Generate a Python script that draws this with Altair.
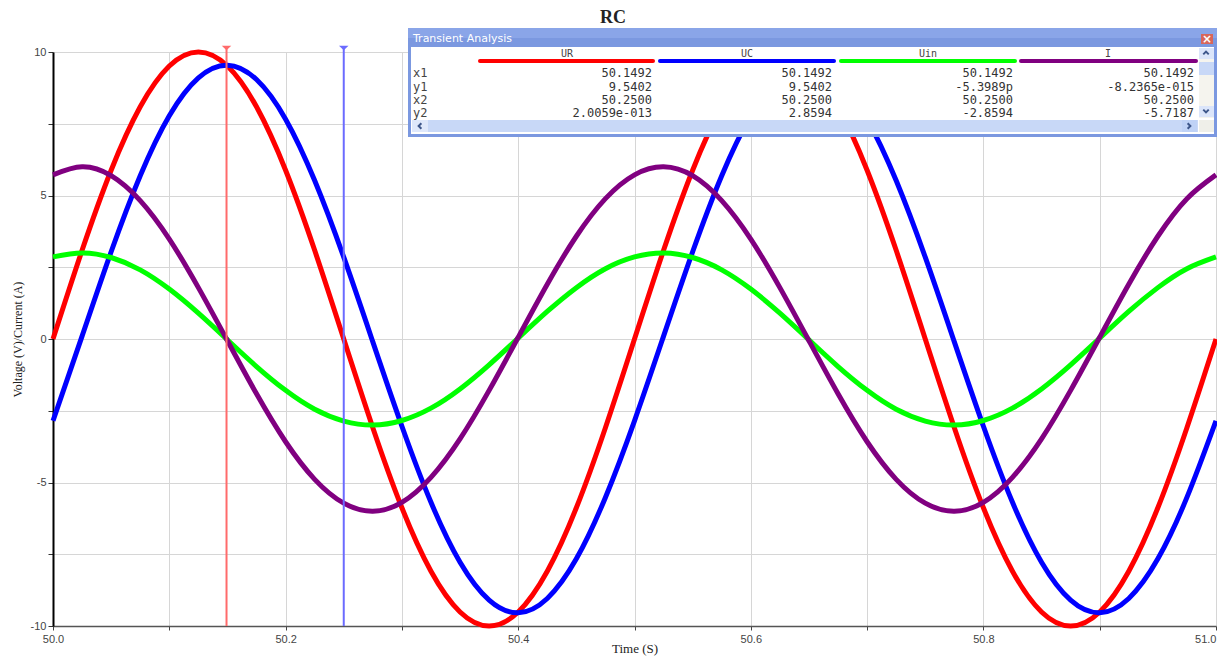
import altair as alt
import pandas as pd

# ---------------- data ----------------
t = [50.000, 50.025, 50.050, 50.075, 50.100, 50.125, 50.150, 50.175, 50.200, 50.225,
     50.250, 50.275, 50.300, 50.325, 50.350, 50.375, 50.400, 50.425, 50.450, 50.475,
     50.500, 50.525, 50.550, 50.575, 50.600, 50.625, 50.650, 50.675, 50.700, 50.725,
     50.750, 50.775, 50.800, 50.825, 50.850, 50.875, 50.900, 50.925, 50.950, 50.975,
     51.000]
UR = [0.00, 3.09, 5.88, 8.09, 9.51, 10.00, 9.51, 8.09, 5.88, 3.09,
      0.00, -3.09, -5.88, -8.09, -9.51, -10.00, -9.51, -8.09, -5.88, -3.09,
      0.00, 3.09, 5.88, 8.09, 9.51, 10.00, 9.51, 8.09, 5.88, 3.09,
      0.00, -3.09, -5.88, -8.09, -9.51, -10.00, -9.51, -8.09, -5.88, -3.09,
      0.00]
UC = [-2.85, 0.10, 3.04, 5.69, 7.78, 9.10, 9.54, 9.04, 7.66, 5.52,
      2.85, -0.10, -3.04, -5.69, -7.78, -9.10, -9.54, -9.04, -7.66, -5.52,
      -2.85, 0.10, 3.04, 5.69, 7.78, 9.10, 9.54, 9.04, 7.66, 5.52,
      2.85, -0.10, -3.04, -5.69, -7.78, -9.10, -9.54, -9.04, -7.66, -5.52,
      -2.85]
Uin = [2.86, 3.00, 2.84, 2.41, 1.74, 0.90, -0.03, -0.96, -1.79, -2.45,
       -2.86, -3.00, -2.84, -2.41, -1.74, -0.90, 0.03, 0.96, 1.79, 2.45,
       2.86, 3.00, 2.84, 2.41, 1.74, 0.90, -0.03, -0.96, -1.79, -2.45,
       -2.86, -3.00, -2.84, -2.41, -1.74, -0.90, 0.03, 0.96, 1.79, 2.45,
       2.86]
I = [5.72, 6.00, 5.69, 4.82, 3.48, 1.79, -0.06, -1.91, -3.58, -4.89,
     -5.72, -6.00, -5.69, -4.82, -3.48, -1.79, 0.06, 1.91, 3.58, 4.89,
     5.72, 6.00, 5.69, 4.82, 3.48, 1.79, -0.06, -1.91, -3.58, -4.89,
     -5.72, -6.00, -5.69, -4.82, -3.48, -1.79, 0.06, 1.91, 3.58, 4.89,
     5.72]
series_names = ["UR", "UC", "Uin", "I"]
series_colors = ["#ff0000", "#0000ff", "#00ff00", "#800080"]

cursor_t = [50.1492, 50.25]
cursor_colors = ["#ff6b6b", "#6b6bff"]

x_ticks = [50.0, 50.1, 50.2, 50.3, 50.4, 50.5, 50.6, 50.7, 50.8, 50.9, 51.0]
y_ticks = [-10, -7.5, -5, -2.5, 0, 2.5, 5, 7.5, 10]

title_text = "RC"
x_title = "Time (S)"
y_title = "Voltage (V)/Current (A)"
window_title = "Transient Analysis"
row_labels = ["x1", "y1", "x2", "y2"]
table_UR = ["50.1492", "9.5402", "50.2500", "2.0059e-013"]
table_UC = ["50.1492", "9.5402", "50.2500", "2.8594"]
table_Uin = ["50.1492", "-5.3989p", "50.2500", "-2.8594"]
table_I = ["50.1492", "-8.2365e-015", "50.2500", "-5.7187"]

# ---------------- layout ----------------
W, H = 1163, 574
OX, OY = 53, 52          # page position of the plot origin


def px(x):
    return x - OX


def py(y):
    return y - OY


xenc = alt.X("t:Q",
             scale=alt.Scale(domain=[50, 51], nice=False, zero=False),
             axis=alt.Axis(values=x_ticks, grid=True, gridColor="#d6d6d6", gridWidth=1,
                           labelExpr="(round(datum.value*10) % 2 == 0) ? format(datum.value, '.1f') : ''",
                           labelAlign={"condition": {"test": "datum.value >= 50.95", "value": "right"},
                                       "value": "center"},
                           labelFont="Liberation Sans", labelFontSize=11, labelColor="#444444",
                           labelPadding=3, tickSize=4, tickColor="#444444",
                           domainColor="#555555", domainWidth=1.5,
                           title=x_title, titleFont="Liberation Serif", titleFontSize=13,
                           titleFontWeight="normal", titleColor="#222222",
                           titleBaseline="bottom", titleY=29))
yenc = alt.Y("v:Q",
             scale=alt.Scale(domain=[-10, 10], nice=False, zero=False),
             axis=alt.Axis(values=y_ticks, grid=True, gridColor="#d6d6d6", gridWidth=1,
                           labelExpr="(datum.value % 5 == 0) ? ('' + datum.value) : ''",
                           labelFont="Liberation Sans", labelFontSize=11, labelColor="#444444",
                           labelPadding=2, tickSize=5, tickColor="#333333",
                           domainColor="#000000", domainWidth=2,
                           title=y_title, titleFont="Liberation Serif", titleFontSize=12,
                           titleFontWeight="normal", titleColor="#222222", titlePadding=6))

layers = []
for name, vals, col in zip(series_names, [UR, UC, Uin, I], series_colors):
    df = pd.DataFrame({"t": t, "v": vals})
    layers.append(alt.Chart(df).mark_line(color=col, strokeWidth=5, interpolate="natural")
                  .encode(x=xenc, y=yenc))

# cursors
cur = pd.DataFrame({"t": cursor_t, "c": cursor_colors})
layers.append(alt.Chart(cur).mark_rule(strokeWidth=2).encode(
    x=xenc, y=alt.value(-6), y2=alt.value(H), color=alt.Color("c:N", scale=None)))
layers.append(alt.Chart(cur).mark_point(shape="M -1 -0.5 L 1 -0.5 L 0 0.5 Z", filled=True,
                                        size=90, opacity=1).encode(
    x=xenc, y=alt.value(-4), color=alt.Color("c:N", scale=None)))

# ---------------- "Transient Analysis" window ----------------
rects = [
    (408, 28, 1217, 137, "#7b98e0"),
    (408, 28, 1217, 38, "#8aa5e8"),
    (411, 47, 1214, 134, "#ffffff"),
    (412, 120, 1198, 132, "#c8d8f7"),
    (412, 120, 428, 132, "#dfe8fb"),
    (1182, 120, 1197, 132, "#bfd2f6"),
    (1199, 48, 1214, 118, "#f5f4ee"),
    (1199, 48, 1214, 59, "#dbe5fa"),
    (1199, 62, 1214, 75, "#c8d8f7"),
    (1199, 106, 1214, 117, "#dbe5fa"),
    (1199, 120, 1214, 132, "#efefe9"),
    (1201, 34, 1213, 44, "#d8665a"),
]
rdf = pd.DataFrame([{"x1": px(a), "y1": py(b), "x2": px(c), "y2": py(d), "f": f}
                    for a, b, c, d, f in rects])
layers.append(alt.Chart(rdf).mark_rect().encode(
    x=alt.X("x1:Q", scale=None, axis=None), x2="x2:Q",
    y=alt.Y("y1:Q", scale=None, axis=None), y2="y2:Q",
    color=alt.Color("f:N", scale=None)))

# colored header bars
bar_span = [(480, 653), (660, 834), (841, 1015), (1021, 1196)]
bdf = pd.DataFrame([{"x1": px(a), "x2": px(b), "y": py(61), "c": c}
                    for (a, b), c in zip(bar_span, series_colors)])
layers.append(alt.Chart(bdf).mark_rule(strokeWidth=4, strokeCap="round").encode(
    x=alt.X("x1:Q", scale=None, axis=None), x2="x2:Q",
    y=alt.Y("y:Q", scale=None, axis=None), color=alt.Color("c:N", scale=None)))

# window title and close mark
layers.append(alt.Chart(pd.DataFrame({"s": [window_title]})).mark_text(
    align="left", baseline="middle", font="DejaVu Sans", fontSize=11, color="#ffffff").encode(
    x=alt.value(px(413)), y=alt.value(py(39)), text="s:N"))
layers.append(alt.Chart(pd.DataFrame({"s": ["×"]})).mark_text(
    align="center", baseline="middle", font="DejaVu Sans", fontSize=12, fontWeight="bold",
    color="#ffffff").encode(x=alt.value(px(1207)), y=alt.value(py(39)), text="s:N"))

# column headers
col_centers = [567, 747, 928, 1108]
hdf = pd.DataFrame({"x": [px(v) for v in col_centers], "y": [py(54)] * 4, "s": series_names})
layers.append(alt.Chart(hdf).mark_text(align="center", baseline="middle",
                                       font="DejaVu Sans Mono", fontSize=10, color="#444444").encode(
    x=alt.X("x:Q", scale=None, axis=None), y=alt.Y("y:Q", scale=None, axis=None), text="s:N"))

row_y = [73, 86.5, 100, 113]
ldf = pd.DataFrame({"x": [px(413)] * 4, "y": [py(v) for v in row_y], "s": row_labels})
layers.append(alt.Chart(ldf).mark_text(align="left", baseline="middle",
                                       font="DejaVu Sans Mono", fontSize=12, color="#444444").encode(
    x=alt.X("x:Q", scale=None, axis=None), y=alt.Y("y:Q", scale=None, axis=None), text="s:N"))

col_right = [652, 832, 1013, 1194]
vrows = []
for xr, vals in zip(col_right, [table_UR, table_UC, table_Uin, table_I]):
    for yy, s in zip(row_y, vals):
        vrows.append({"x": px(xr), "y": py(yy), "s": s})
vdf = pd.DataFrame(vrows)
layers.append(alt.Chart(vdf).mark_text(align="right", baseline="middle",
                                       font="DejaVu Sans Mono", fontSize=12, color="#333333").encode(
    x=alt.X("x:Q", scale=None, axis=None), y=alt.Y("y:Q", scale=None, axis=None), text="s:N"))

# scroll arrows (chevrons)
chev = [
    (420, 126, "M 0.5 -1 L -0.5 0 L 0.5 1"),
    (1189, 126, "M -0.5 -1 L 0.5 0 L -0.5 1"),
    (1206, 53, "M -1 0.5 L 0 -0.5 L 1 0.5"),
    (1206, 111, "M -1 -0.5 L 0 0.5 L 1 -0.5"),
]
for cx, cy, shp in chev:
    layers.append(alt.Chart(pd.DataFrame({"a": [0]})).mark_point(
        shape=shp, filled=False, size=30, strokeWidth=2, color="#3d568a", opacity=1).encode(
        x=alt.value(px(cx)), y=alt.value(py(cy))))

# chart title
layers.append(alt.Chart(pd.DataFrame({"s": [title_text]})).mark_text(
    align="center", baseline="middle", font="Liberation Serif", fontSize=18, fontWeight="bold",
    color="#222222").encode(x=alt.value(px(613)), y=alt.value(py(18)), text="s:N"))

chart = alt.layer(*layers).properties(
    width=W, height=H,
    padding={"left": 45, "top": 44, "right": 1, "bottom": 31},
    autosize=alt.AutoSizeParams(type="none"),
    background="#ffffff",
).configure_view(stroke=None)

chart.save("out.html", embed_options={"renderer": "svg", "actions": False})
